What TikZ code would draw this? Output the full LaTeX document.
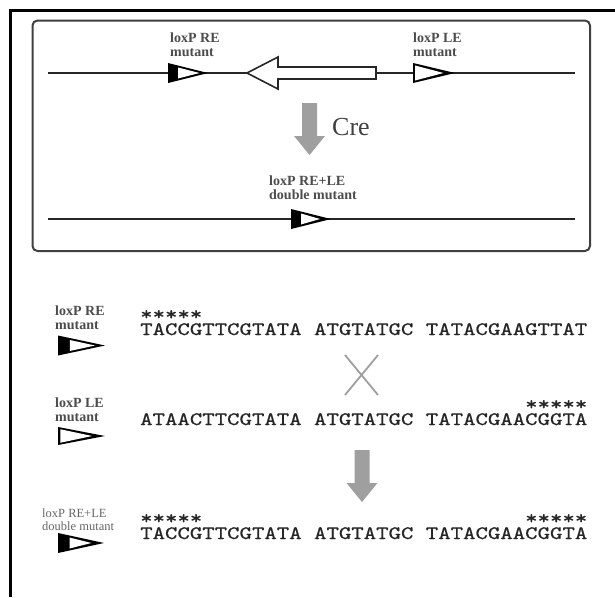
\documentclass[tikz,border=0pt]{standalone}
\usepackage{fontspec}
\setmainfont{Liberation Serif}
\newfontfamily\seqfont{lmmono10-regular.otf}[FakeStretch=1.245,FakeBold=0.6]
\tikzset{
  lbl/.style={font=\bfseries\fontsize{14}{14}\selectfont,text=black!70,align=left,inner sep=0,anchor=base west},
  seq/.style={font=\seqfont\fontsize{19}{22}\selectfont,text=black!85,inner sep=0,anchor=base west},
  strand/.style={line width=1.6pt,black!85},
  pics/lox/.style n args={3}{code={
    \fill[black] (0,-10) -- (0,10) -- (40,0) -- cycle;
    \fill[white] (#1,-#2) -- (#1,#2) -- (#3,0) -- cycle;}},
  pics/down/.style={code={
    \fill[gray!75] (-7.5,0) -- (7.5,0) -- (7.5,33) -- (15.5,33) -- (0,52) -- (-15.5,33) -- (-7.5,33) -- cycle;}}
}
\begin{document}
\begin{tikzpicture}[x=1pt,y=-1pt]
\useasboundingbox (0,0) rectangle (615,597);
\fill[white] (0,0) rectangle (615,597);
\draw[line width=3.5pt] (10.3,597) -- (10.3,10.3) -- (615,10.3);
\begin{scope}
\draw[line width=2pt,black!75,rounded corners=5pt] (32.5,20.5) rectangle (590,251);
\coordinate (a1) at (48,73);
\coordinate (a2) at (575,73);
\draw[strand] (a1) -- (a2);
\draw[strand,fill=white,line join=miter] (247,73) -- (278,57) -- (278,67) -- (376,67) -- (376,79) -- (278,79) -- (278,89) -- cycle;
\pic at (168,73) {lox={10}{5.5}{31.5}};
\pic[xscale=1.05] at (413,73) {lox={2}{7.5}{29}};
\node[lbl] (re) at (170,56) {loxP RE\\mutant};
\node[lbl] (le) at (413,56) {loxP LE\\mutant};
\pic at (309.5,103) {down};
\node[font=\fontsize{26}{28}\selectfont,text=black!75,inner sep=0,anchor=base west] (cre) at (332,135) {Cre};
\node[lbl] (dm) at (269,199) {loxP RE+LE\\double mutant};
\coordinate (b1) at (48,219);
\coordinate (b2) at (575,219);
\draw[strand] (b1) -- (b2);
\pic at (291,219) {lox={10}{5.5}{29}};
\end{scope}
\begin{scope}
\node[lbl] (l1) at (55,329) {loxP RE\\mutant};
\pic[xscale=1.175] at (58,345.5) {lox={10}{5.5}{31.5}};
\node[seq] (s1) at (140,335) {TACCGTTCGTATA ATGTATGC TATACGAAGTTAT};
\node[seq] (t1) at ([yshift=15pt]s1.base west) {*****};
\draw[gray!75,line width=1.8pt] (345,355) -- (378,395) (345,395) -- (378,355);
\node[lbl] (l2) at (55,421) {loxP LE\\mutant};
\pic[xscale=1.175,yscale=0.9] at (58,436) {lox={2}{7.5}{29}};
\node[seq] (s2) at (140,425) {ATAACTTCGTATA ATGTATGC TATACGAACGGTA};
\node[seq,anchor=base east] (t2) at ([yshift=15pt]s2.base east) {*****};
\pic at (362,450) {down};
\node[lbl,font=\fontsize{12.5}{12.5}\selectfont,text=black!60] (l3) at (42,530) {loxP RE+LE\\double mutant};
\pic[xscale=1.15] at (58,543) {lox={10}{5.5}{29}};
\node[seq] (s3) at (140,539) {TACCGTTCGTATA ATGTATGC TATACGAACGGTA};
\node[seq] (t3) at ([yshift=15pt]s3.base west) {*****};
\node[seq,anchor=base east] (t4) at ([yshift=15pt]s3.base east) {*****};
\end{scope}
\end{tikzpicture}
\end{document}
